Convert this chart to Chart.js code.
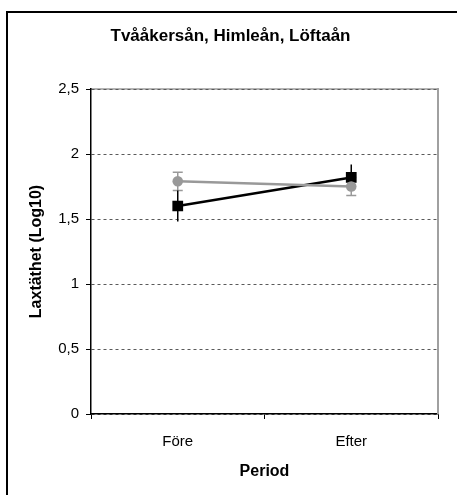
<!DOCTYPE html>
<html>
<head>
<meta charset="utf-8">
<script src="https://cdn.jsdelivr.net/npm/chart.js@4/dist/chart.umd.min.js"></script>
<style>
  html, body { margin: 0; padding: 0; background: #fff; }
  #wrap { position: relative; width: 457px; height: 495px; }
</style>
</head>
<body>
<div id="wrap"><canvas id="c" width="457" height="495"></canvas></div>
<script>
const periods = ["Före", "Efter"];
const grayValues = [1.79, 1.75];
const grayErrors = [0.07, 0.07];
const blackValues = [1.60, 1.82];
const blackErrors = [0.12, 0.10];
const yTicks = [0, 0.5, 1, 1.5, 2, 2.5];

const FONT = "'Liberation Sans', Arial, sans-serif";
const PAD_LEFT = 23;
const PAD_BOTTOM = 10;

// Outer frame (only top and left show in the crop) and plot-area border
const frame = {
  id: "frame",
  beforeDraw(chart) {
    const { ctx, chartArea } = chart;
    ctx.save();
    ctx.strokeStyle = "#000";
    ctx.lineWidth = 2;
    ctx.beginPath();
    ctx.moveTo(7, 500);
    ctx.lineTo(7, 12);
    ctx.lineTo(470, 12);
    ctx.stroke();
    ctx.strokeStyle = "#b4b4b4";
    ctx.lineWidth = 2;
    ctx.beginPath();
    ctx.moveTo(chartArea.left, chartArea.top);
    ctx.lineTo(chartArea.right, chartArea.top);
    ctx.stroke();
    ctx.restore();
  },
  afterDraw(chart) {
    const { ctx, chartArea } = chart;
    ctx.save();
    ctx.strokeStyle = "#a0a0a0";
    ctx.lineWidth = 2;
    ctx.beginPath();
    ctx.moveTo(chartArea.right, chartArea.top - 1);
    ctx.lineTo(chartArea.right, chartArea.bottom);
    ctx.stroke();
    ctx.restore();
  },
};

// Error bars, drawn below the markers
const errorBars = {
  id: "errorBars",
  beforeDatasetsDraw(chart) {
    const { ctx } = chart;
    const yScale = chart.scales.y;
    const specs = [
      { values: grayValues, errors: grayErrors, color: "#999", cap: 5 },
      { values: blackValues, errors: blackErrors, color: "#000", cap: 0 },
    ];
    ctx.save();
    specs.forEach((s, di) => {
      const meta = chart.getDatasetMeta(di);
      ctx.strokeStyle = s.color;
      ctx.lineWidth = 1.5;
      meta.data.forEach((pt, i) => {
        const top = yScale.getPixelForValue(s.values[i] + s.errors[i]);
        const bot = yScale.getPixelForValue(s.values[i] - s.errors[i]);
        ctx.beginPath();
        ctx.moveTo(pt.x, top);
        ctx.lineTo(pt.x, bot);
        if (s.cap) {
          ctx.moveTo(pt.x - s.cap, top);
          ctx.lineTo(pt.x + s.cap, top);
          ctx.moveTo(pt.x - s.cap, bot);
          ctx.lineTo(pt.x + s.cap, bot);
        }
        ctx.stroke();
      });
    });
    ctx.restore();
  },
};

new Chart(document.getElementById("c"), {
  type: "line",
  data: {
    labels: periods,
    datasets: [
      {
        data: grayValues,
        borderColor: "#999",
        backgroundColor: "#999",
        borderWidth: 2.5,
        pointStyle: "circle",
        pointRadius: 5.3,
        pointBorderWidth: 0,
      },
      {
        data: blackValues,
        borderColor: "#000",
        backgroundColor: "#000",
        borderWidth: 2.5,
        pointStyle: "rect",
        pointRadius: 7.6,
        pointBorderWidth: 0,
      },
    ],
  },
  options: {
    responsive: false,
    animation: false,
    layout: { padding: { left: PAD_LEFT, right: 19, top: 0, bottom: PAD_BOTTOM } },
    plugins: {
      legend: { display: false },
      tooltip: { enabled: false },
      title: {
        display: true,
        text: "Tvååkersån, Himleån, Löftaån",
        color: "#000",
        font: { family: FONT, size: 17, weight: "bold" },
        padding: { top: 26, bottom: 42.6 },
      },
    },
    scales: {
      x: {
        offset: true,
        afterFit(scale) { scale.height = 495 - PAD_BOTTOM - 414; },
        grid: {
          offset: true,
          drawOnChartArea: false,
          tickLength: 5,
          tickColor: "#000",
        },
        border: { color: "#000", width: 1.5 },
        ticks: {
          color: "#000",
          padding: 14,
          font: { family: FONT, size: 15 },
        },
        title: {
          display: true,
          text: "Period",
          color: "#000",
          font: { family: FONT, size: 16, weight: "bold" },
          padding: { top: 4, bottom: 4 },
        },
      },
      y: {
        min: 0,
        max: 2.5,
        afterFit(scale) { scale.width = 91 - PAD_LEFT; },
        afterBuildTicks(scale) { scale.ticks = yTicks.map(v => ({ value: v })); },
        grid: {
          color: "#5a5a5a",
          lineWidth: 1,
          tickLength: 5,
          tickColor: "#000",
          tickBorderDash: [],
        },
        border: { color: "#000", width: 1.5, dash: [3, 3] },
        ticks: {
          color: "#000",
          padding: 7,
          font: { family: FONT, size: 15 },
          callback: v => String(v).replace(".", ","),
        },
        title: {
          display: true,
          text: "Laxtäthet (Log10)",
          color: "#000",
          font: { family: FONT, size: 16, weight: "bold" },
          padding: { top: 4, bottom: 4 },
        },
      },
    },
  },
  plugins: [frame, errorBars],
});
</script>
</body>
</html>
